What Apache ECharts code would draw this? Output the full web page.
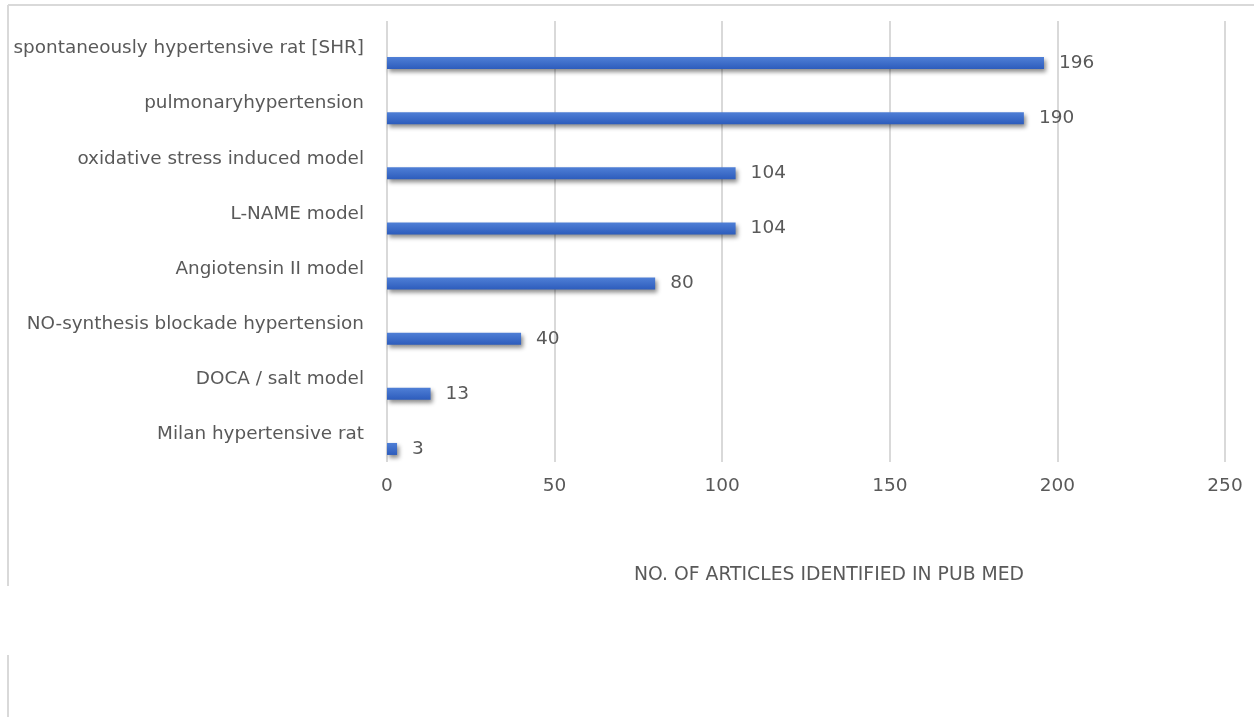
<!DOCTYPE html>
<html><head><meta charset="utf-8">
<script src="https://cdn.jsdelivr.net/npm/echarts@6/dist/echarts.min.js"></script>
<style>html,body{margin:0;padding:0;background:#fff}#c{width:1254px;height:717px}</style>
</head><body><div id="c"></div>
<script>
const categories = [
  "spontaneously hypertensive rat [SHR]",
  "pulmonaryhypertension",
  "oxidative stress induced model",
  "L-NAME model",
  "Angiotensin II model",
  "NO-synthesis blockade hypertension",
  "DOCA / salt model",
  "Milan hypertensive rat"
];
const articles = [196, 190, 104, 104, 80, 40, 13, 3];
const xTicks = [0, 50, 100, 150, 200, 250];
const axisTitle = "NO. OF ARTICLES IDENTIFIED IN PUB MED";

const chart = echarts.init(document.getElementById('c'), null, {renderer: 'canvas'});
const txt = '#595959';
const fam = 'DejaVu Sans';
chart.setOption({
  animation: false,
  backgroundColor: '#fff',
  grid: {left: 387, right: 1254 - 1225, top: 21, height: 441, containLabel: false},
  xAxis: {
    type: 'value', min: xTicks[0], max: xTicks[xTicks.length - 1], interval: 50,
    axisLine: {show: false}, axisTick: {show: false},
    splitLine: {show: true, lineStyle: {color: '#d9d9d9', width: 2}},
    axisLabel: {color: txt, fontSize: 18.5, fontFamily: fam, margin: 15}
  },
  yAxis: {
    type: 'category', data: categories, inverse: true,
    axisLine: {show: false}, axisTick: {show: false},
    axisLabel: {color: txt, fontSize: 18.4, fontFamily: fam, margin: 23}
  },
  series: [
    {type: 'bar', data: articles.map(() => '-'), barWidth: 12, barGap: '142%', silent: true},
    {
      type: 'bar', data: articles, barWidth: 12,
      itemStyle: {
        color: new echarts.graphic.LinearGradient(0, 0, 0, 1, [
          {offset: 0, color: '#4f7fd6'}, {offset: 1, color: '#2d5cbc'}
        ]),
        shadowColor: 'rgba(0,0,0,0.45)', shadowBlur: 4, shadowOffsetX: 2, shadowOffsetY: 3
      },
      label: {show: true, position: 'right', distance: 15, color: txt, fontSize: 18.5, fontFamily: fam}
    }
  ],
  graphic: [
    {type: 'line', shape: {x1: 8, y1: 5, x2: 1254, y2: 5}, style: {stroke: '#d9d9d9', lineWidth: 2}},
    {type: 'line', shape: {x1: 8, y1: 5, x2: 8, y2: 586}, style: {stroke: '#d9d9d9', lineWidth: 2}},
    {type: 'line', shape: {x1: 8, y1: 655, x2: 8, y2: 717}, style: {stroke: '#d9d9d9', lineWidth: 2}},
    {type: 'text', left: 634, top: 566, style: {text: axisTitle, fill: txt, fontSize: 18.8, fontFamily: fam}}
  ]
});
</script></body></html>
